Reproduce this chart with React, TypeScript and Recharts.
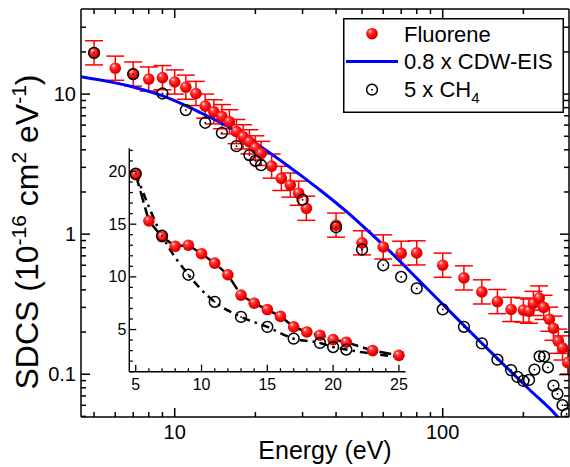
import React from 'react';
import { ComposedChart, Scatter, Line, XAxis, YAxis, ErrorBar, Legend } from 'recharts';

const FONT = '"Liberation Sans", Arial, Helvetica, sans-serif';

// ---------- main panel data ----------
const fluoreneE = [5, 6, 7, 8, 9, 10, 11, 12, 13, 14, 15, 16, 17, 18, 19, 20, 21, 23, 25, 27, 29, 31, 40, 50, 60, 70, 80, 100, 120, 140, 160, 180, 200, 210, 218, 229, 238, 250, 259, 270, 280, 293];
const fluoreneSDCS = [19.7, 15.3, 13.9, 12.8, 13.1, 12.2, 11.2, 10.1, 8.2, 7.47, 6.9, 6.34, 5.4, 4.95, 4.56, 4.13, 3.77, 3.06, 2.5, 2.24, 1.96, 1.53, 1.16, 0.867, 0.81, 0.73, 0.735, 0.6, 0.487, 0.387, 0.33, 0.29, 0.287, 0.282, 0.32, 0.35, 0.3, 0.247, 0.213, 0.172, 0.154, 0.121];
const fluoreneErrDown = 0.18; // relative uncertainty (lower)
const fluoreneErrUp = 0.22; // relative uncertainty (upper)

const cdwE = [4.47, 6.99, 8.97, 11.1, 12.4, 16.5, 22.1, 29.3, 35.7, 43.9, 53.5, 63.7, 80, 100, 126, 163, 211, 266, 280];
const cdwSDCS = [13.3, 11.24, 9.74, 8.2, 7.41, 5.59, 3.93, 2.66, 1.99, 1.44, 1.025, 0.75, 0.485, 0.316, 0.203, 0.125, 0.0775, 0.0506, 0.0452];

const ch4E = [5, 7, 9, 11, 13, 15, 17, 19, 20, 21, 30, 40, 50, 60, 70, 80, 100, 120, 140, 160, 180, 190, 200, 210, 220, 230, 239, 247, 259, 268, 280, 290];
const ch4SDCS = [19.7, 13.9, 10.1, 7.69, 6.24, 5.29, 4.25, 3.67, 3.34, 3.11, 1.76, 1.12, 0.777, 0.6, 0.495, 0.41, 0.29, 0.218, 0.166, 0.127, 0.107, 0.0957, 0.0896, 0.091, 0.108, 0.134, 0.134, 0.112, 0.083, 0.0725, 0.0601, 0.052];

const xTicks = [5, 6, 7, 8, 9, 10, 20, 30, 40, 50, 60, 70, 80, 90, 100, 200];
const xMajor = [10, 100];
const yTicks = [0.05, 0.06, 0.07, 0.08, 0.09, 0.1, 0.2, 0.3, 0.4, 0.5, 0.6, 0.7, 0.8, 0.9, 1, 2, 3, 4, 5, 6, 7, 8, 9, 10, 20, 30];
const yMajor = [0.1, 1, 10];
const yLabels: Record<string, string> = { '0.1': '0.1', '1': '1', '10': '10' };

// ---------- inset data (linear axes) ----------
const insetFluoreneE = [5, 6, 7, 8, 9, 10, 11, 12, 13, 14, 15, 16, 17, 18, 19, 20, 21, 23, 25];
const insetFluoreneSDCS = [19.7, 15.3, 13.8, 12.9, 13.0, 12.2, 11.3, 10.2, 8.27, 7.5, 6.9, 6.25, 5.25, 4.77, 4.46, 4.05, 3.8, 3.0, 2.55];
const insetCh4E = [5, 7, 9, 11, 13, 15, 17, 19, 20, 21];
const insetCh4SDCS = [19.8, 13.9, 10.2, 7.63, 6.2, 5.25, 4.14, 3.73, 3.34, 3.1];
const insetCh4TailE = [23, 25];
const insetCh4TailSDCS = [2.7, 2.4];
const insetXTicks = [5, 6, 7, 8, 9, 10, 11, 12, 13, 14, 15, 16, 17, 18, 19, 20, 21, 22, 23, 24, 25];
const insetXMajor = [5, 10, 15, 20, 25];
const insetYTicks = [1, 2, 3, 4, 5, 6, 7, 8, 9, 10, 11, 12, 13, 14, 15, 16, 17, 18, 19, 20, 21, 22];
const insetYMajor = [5, 10, 15, 20];

const fluoreneData = fluoreneE.map((x, i) => ({
  x,
  y: fluoreneSDCS[i],
  err: [fluoreneSDCS[i] * fluoreneErrDown, fluoreneSDCS[i] * fluoreneErrUp],
}));
const cdwData = cdwE.map((x, i) => ({ x, y: cdwSDCS[i] }));
const ch4Data = ch4E.map((x, i) => ({ x, y: ch4SDCS[i] }));
const insetFluoreneData = insetFluoreneE.map((x, i) => ({ x, y: insetFluoreneSDCS[i] }));
const insetCh4Data = insetCh4E.map((x, i) => ({ x, y: insetCh4SDCS[i] }));
const insetCh4LineData = [...insetCh4Data, ...insetCh4TailE.map((x, i) => ({ x, y: insetCh4TailSDCS[i] }))];

const AX = '#000';

const Sphere = (props: any) => {
  const { cx, cy } = props;
  if (cx == null || cy == null || isNaN(cx) || isNaN(cy)) return <g />;
  return <circle cx={cx} cy={cy} r={5.8} fill="url(#redSphere)" />;
};
const OpenDot = (props: any) => {
  const { cx, cy } = props;
  if (cx == null || cy == null || isNaN(cx) || isNaN(cy)) return <g />;
  return (
    <g>
      <circle cx={cx} cy={cy} r={5.4} fill="none" stroke="#000" strokeWidth={1.5} />
      <circle cx={cx} cy={cy} r={0.9} fill="#000" />
    </g>
  );
};

// main axis ticks (inward)
const BottomTick = (p: any) => {
  const { x, y, payload } = p;
  const v = payload.value;
  const major = xMajor.includes(v);
  return (
    <g>
      <line x1={x} x2={x} y1={y} y2={y - (major ? 9 : 5)} stroke={AX} strokeWidth={1.5} />
      {major && (
        <text x={x} y={y + 22} textAnchor="middle" fontSize={20} fontFamily={FONT} fill="#000">
          {v}
        </text>
      )}
    </g>
  );
};
const TopTick = (p: any) => {
  const { x, y, payload } = p;
  const major = xMajor.includes(payload.value);
  return <line x1={x} x2={x} y1={y} y2={y + (major ? 9 : 5)} stroke={AX} strokeWidth={1.5} />;
};
const LeftTick = (p: any) => {
  const { x, y, payload } = p;
  const v = payload.value;
  const major = yMajor.includes(v);
  return (
    <g>
      <line x1={x} x2={x + (major ? 9 : 5)} y1={y} y2={y} stroke={AX} strokeWidth={1.5} />
      {major && (
        <text x={x - 5} y={y + 7} textAnchor="end" fontSize={20} fontFamily={FONT} fill="#000">
          {yLabels[String(v)]}
        </text>
      )}
    </g>
  );
};
const RightTick = (p: any) => {
  const { x, y, payload } = p;
  const major = yMajor.includes(payload.value);
  return <line x1={x} x2={x - (major ? 9 : 5)} y1={y} y2={y} stroke={AX} strokeWidth={1.5} />;
};

// inset ticks
const InsetBottomTick = (p: any) => {
  const { x, y, payload } = p;
  const v = payload.value;
  const major = insetXMajor.includes(v);
  return (
    <g>
      <line x1={x} x2={x} y1={y} y2={y - (major ? 7 : 3.5)} stroke={AX} strokeWidth={1.3} />
      {major && (
        <text x={x} y={y + 18.5} textAnchor="middle" fontSize={16} fontFamily={FONT} fill="#000">
          {v}
        </text>
      )}
    </g>
  );
};
const InsetLeftTick = (p: any) => {
  const { x, y, payload } = p;
  const v = payload.value;
  const major = insetYMajor.includes(v);
  return (
    <g>
      <line x1={x} x2={x + (major ? 7 : 3.5)} y1={y} y2={y} stroke={AX} strokeWidth={1.3} />
      {major && (
        <text x={x - 3} y={y + 5.5} textAnchor="end" fontSize={16} fontFamily={FONT} fill="#000">
          {v}
        </text>
      )}
    </g>
  );
};

const YTitle = (props: any) => {
  const vb = props.viewBox || { x: 21, y: 9, width: 60, height: 408 };
  const cx = vb.x + 17;
  const cy = vb.y + vb.height / 2 + 19;
  return (
    <text
      x={cx}
      y={cy}
      transform={`rotate(-90 ${cx} ${cy})`}
      textAnchor="middle"
      fontSize={32}
      fontFamily={FONT}
      fill="#000"
    >
      <tspan>SDCS (10</tspan>
      <tspan fontSize={21} dy={-12}>-16</tspan>
      <tspan dy={12}> cm</tspan>
      <tspan fontSize={21} dy={-12}>2</tspan>
      <tspan dy={12}> eV</tspan>
      <tspan fontSize={21} dy={-12}>-1</tspan>
      <tspan dy={12}>)</tspan>
    </text>
  );
};

const XTitle = (props: any) => {
  const vb = props.viewBox || { x: 81, y: 417, width: 488, height: 30 };
  const cx = vb.x + vb.width / 2;
  return (
    <text x={cx} y={459} textAnchor="middle" fontSize={25} fontFamily={FONT} fill="#000">
      Energy (eV)
    </text>
  );
};

const LegendBox = () => (
  <svg width={222} height={96} style={{ display: 'block', overflow: 'visible' }}>
    <rect x={0.75} y={0.75} width={219.5} height={93.5} fill="#fff" stroke="#000" strokeWidth={1.5} />
    <circle cx={29} cy={15.7} r={5.8} fill="url(#redSphere)" />
    <line x1={3} x2={55} y1={43.4} y2={43.4} stroke="#0000ff" strokeWidth={3} />
    <circle cx={29} cy={71.7} r={5.4} fill="none" stroke="#000" strokeWidth={1.5} />
    <circle cx={29} cy={71.7} r={0.9} fill="#000" />
    <text x={61} y={23.5} fontSize={22} fontFamily={FONT} fill="#000">Fluorene</text>
    <text x={61} y={51} fontSize={22} fontFamily={FONT} fill="#000">0.8 x CDW-EIS</text>
    <text x={61} y={78.5} fontSize={22} fontFamily={FONT} fill="#000">
      5 x CH<tspan fontSize={15} dy={6}>4</tspan>
    </text>
  </svg>
);

export default function App() {
  return (
    <div style={{ position: 'absolute', left: 0, top: 0, width: 570, height: 467, background: '#fff', fontFamily: FONT }}>
      <svg width={0} height={0} style={{ position: 'absolute' }}>
        <defs>
          <radialGradient id="redSphere" cx="0.45" cy="0.42" r="0.6" fx="0.33" fy="0.28">
            <stop offset="0" stopColor="#ffe6e6" />
            <stop offset="0.28" stopColor="#ff4040" />
            <stop offset="0.7" stopColor="#f80000" />
            <stop offset="1" stopColor="#cc0000" />
          </radialGradient>
        </defs>
      </svg>

      <div style={{ position: 'absolute', left: 0, top: 0 }}>
        <ComposedChart width={570} height={467} margin={{ top: 8, right: 0, bottom: 20, left: 21 }}>
          <XAxis
            xAxisId="b"
            dataKey="x"
            type="number"
            scale="log"
            domain={[4.47, 296]}
            allowDataOverflow
            ticks={xTicks}
            interval={0}
            tickSize={0}
            tickMargin={0}
            tick={<BottomTick />}
            tickLine={false}
            axisLine={{ stroke: AX, strokeWidth: 1.5 }}
            height={30}
            orientation="bottom"
            label={<XTitle />}
          />
          <XAxis
            xAxisId="t"
            dataKey="x"
            type="number"
            scale="log"
            domain={[4.47, 296]}
            allowDataOverflow
            ticks={xTicks}
            interval={0}
            tickSize={0}
            tickMargin={0}
            tick={<TopTick />}
            tickLine={false}
            axisLine={{ stroke: AX, strokeWidth: 1.5 }}
            height={1}
            orientation="top"
          />
          <YAxis
            yAxisId="l"
            type="number"
            scale="log"
            domain={[0.0495, 40.5]}
            allowDataOverflow
            ticks={yTicks}
            interval={0}
            tickSize={0}
            tickMargin={0}
            tick={<LeftTick />}
            tickLine={false}
            axisLine={{ stroke: AX, strokeWidth: 1.5 }}
            width={60}
            orientation="left"
            label={<YTitle />}
          />
          <YAxis
            yAxisId="r"
            type="number"
            scale="log"
            domain={[0.0495, 40.5]}
            allowDataOverflow
            ticks={yTicks}
            interval={0}
            tickSize={0}
            tickMargin={0}
            tick={<RightTick />}
            tickLine={false}
            axisLine={{ stroke: AX, strokeWidth: 1.5 }}
            width={1}
            orientation="right"
          />
          <Scatter
            name="Fluorene"
            data={fluoreneData}
            dataKey="y"
            xAxisId="b"
            yAxisId="l"
            shape={<Sphere />}
            isAnimationActive={false}
          >
            <ErrorBar dataKey="err" direction="y" width={9} stroke="#ff0000" strokeWidth={1.5} isAnimationActive={false} />
          </Scatter>
          <Line
            name="0.8 x CDW-EIS"
            data={cdwData}
            dataKey="y"
            xAxisId="b"
            yAxisId="l"
            type="monotone"
            stroke="#0000ff"
            strokeWidth={3}
            dot={false}
            activeDot={false}
            isAnimationActive={false}
          />
          <Scatter
            name="5 x CH4"
            data={ch4Data}
            dataKey="y"
            xAxisId="b"
            yAxisId="l"
            shape={<OpenDot />}
            isAnimationActive={false}
          />
          <Legend
            layout="horizontal"
            verticalAlign="middle"
            align="center"
            content={() => <LegendBox />}
            wrapperStyle={{ left: 342.5, top: 17.5, width: 222, height: 96 }}
          />
        </ComposedChart>
      </div>

      <div style={{ position: 'absolute', left: 0, top: 0, pointerEvents: 'none' }}>
        <ComposedChart width={570} height={467} margin={{ top: 148.3, right: 164.5, bottom: 65.3, left: 89.3 }}>
          <XAxis
            dataKey="x"
            type="number"
            domain={[4.51, 25.5]}
            allowDataOverflow
            ticks={insetXTicks}
            interval={0}
            tickSize={0}
            tickMargin={0}
            tick={<InsetBottomTick />}
            tickLine={false}
            axisLine={{ stroke: AX, strokeWidth: 1.4 }}
            height={30}
          />
          <YAxis
            type="number"
            domain={[1, 22.2]}
            allowDataOverflow
            ticks={insetYTicks}
            interval={0}
            tickSize={0}
            tickMargin={0}
            tick={<InsetLeftTick />}
            tickLine={false}
            axisLine={{ stroke: AX, strokeWidth: 1.4 }}
            width={40}
          />
          <Scatter data={insetFluoreneData} dataKey="y" shape={<Sphere />} isAnimationActive={false} />
          <Scatter data={insetCh4Data} dataKey="y" shape={<OpenDot />} isAnimationActive={false} />
          <Line
            data={insetFluoreneData}
            dataKey="y"
            type="linear"
            stroke="#000"
            strokeWidth={2.5}
            strokeDasharray="12 5"
            dot={false}
            activeDot={false}
            isAnimationActive={false}
          />
          <Line
            data={insetCh4LineData}
            dataKey="y"
            type="monotone"
            stroke="#000"
            strokeWidth={2.5}
            strokeDasharray="8 5 2.5 5"
            dot={false}
            activeDot={false}
            isAnimationActive={false}
          />
        </ComposedChart>
      </div>
    </div>
  );
}
